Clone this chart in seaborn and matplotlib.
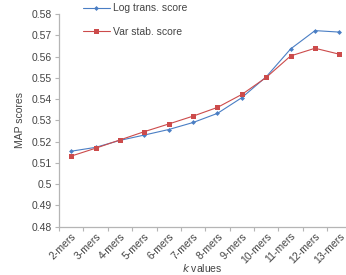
import numpy as np
import pandas as pd
import matplotlib
matplotlib.use("Agg")
import matplotlib.pyplot as plt
import seaborn as sns

sns.set_style("white")
plt.rcParams['font.family'] = ['Liberation Sans', 'DejaVu Sans']

# values
kmers = ["2-mers", "3-mers", "4-mers", "5-mers", "6-mers", "7-mers",
         "8-mers", "9-mers", "10-mers", "11-mers", "12-mers", "13-mers"]
log_trans = [0.5155, 0.5173, 0.5206, 0.5231, 0.5257, 0.5290,
             0.5333, 0.5407, 0.5505, 0.5636, 0.5722, 0.5715]
var_stab = [0.5132, 0.5169, 0.5208, 0.5247, 0.5283, 0.5320,
            0.5361, 0.5422, 0.5502, 0.5603, 0.5639, 0.5611]
yticks = [0.48, 0.49, 0.5, 0.51, 0.52, 0.53, 0.54, 0.55, 0.56, 0.57, 0.58]

blue = "#4a7ec4"
red = "#cc4b4b"
grey = "#b5b5b5"
txt = "#444444"
fs = 7.5

df = pd.DataFrame({"k": kmers, "log": log_trans, "var": var_stab})

fig = plt.figure(figsize=(3.46, 2.75), dpi=100)
ax = fig.add_axes([0.1705, 0.1756, 0.8295, 0.7734])

sns.lineplot(data=df, x="k", y="log", ax=ax, color=blue, marker="D",
             markersize=2.5, markeredgewidth=0, linewidth=0.8,
             label="Log trans. score", sort=False)
sns.lineplot(data=df, x="k", y="var", ax=ax, color=red, marker="s",
             markersize=3.6, markeredgewidth=0, linewidth=0.8,
             label="Var stab. score", sort=False)

ax.set_xlim(-0.5, 11.27)
ax.set_ylim(0.48, 0.58)
ax.set_yticks(yticks)
ax.set_yticklabels(["{:g}".format(v) for v in yticks])

# labels at category centres, tick marks at the boundaries
ax.set_xticks(np.arange(len(kmers)))
ax.set_xticklabels(kmers, rotation=45, ha="right", rotation_mode="anchor")
ax.set_xticks(np.arange(len(kmers)) - 0.5, minor=True)
ax.tick_params(axis="x", which="major", length=0, pad=3, labelsize=fs, labelcolor=txt)
ax.tick_params(axis="x", which="minor", length=3, width=0.8, color=grey, bottom=True)
ax.tick_params(axis="y", length=3, width=0.8, color=grey, left=True, pad=2,
               labelsize=fs, labelcolor=txt)

for side in ["top", "right"]:
    ax.spines[side].set_visible(False)
for side in ["left", "bottom"]:
    ax.spines[side].set_color(grey)
    ax.spines[side].set_linewidth(0.9)

ax.set_xlabel("$k$ values", fontsize=fs, color=txt, labelpad=-2)
ax.set_ylabel("MAP scores", fontsize=fs, color=txt, labelpad=5)

ax.legend(loc="upper left", bbox_to_anchor=(0.05, 1.095), frameon=False,
          fontsize=fs, handlelength=2.6, handletextpad=0.3, labelspacing=1.3,
          labelcolor=txt)

fig.savefig("out.png", dpi=100)
